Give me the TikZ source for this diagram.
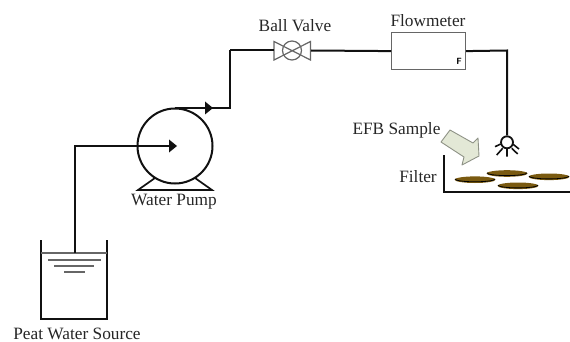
\documentclass[tikz,border=0pt]{standalone}
\usepackage{fontspec}
\setmainfont{Liberation Serif}
\definecolor{pipe}{HTML}{111111}
\definecolor{grayline}{HTML}{666666}
\definecolor{peat}{HTML}{7A5A10}
\definecolor{efbfill}{HTML}{E3E8D6}
\definecolor{efbedge}{HTML}{8E9286}
\tikzset{
  pipeline/.style={draw=pipe,line width=2pt,line join=miter},
  thinline/.style={draw=grayline,line width=1.2pt},
  label/.style={inner sep=0pt,font=\fontsize{17.3}{18}\selectfont,text=black!85},
  peatdisc/.style={fill=peat,draw=none},
  discedge/.style={black,line width=.8pt},
  flowtip/.style={fill=pipe,draw=none},
}
\begin{document}
\begin{tikzpicture}[x=1pt,y=-1pt]
\useasboundingbox (0,0) rectangle (570,342);
% tank
\coordinate (tankTL) at (41,240);
\coordinate (tankBL) at (41,319);
\coordinate (tankBR) at (107,319);
\coordinate (tankTR) at (107,240);
\draw[pipeline] (tankTL) -- (tankBL) -- (tankBR) -- (tankTR);
\coordinate (surfL) at (41,253);
\coordinate (surfR) at (107,253);
\coordinate (surfM) at (75,253);
\draw[thinline] (surfL) -- (surfR);
\draw[thinline] (48,260) -- (101,260);
\draw[thinline] (54,266) -- (94,266);
\draw[thinline] (64,272) -- (85,272);
% pump
\node[circle,draw=pipe,line width=2pt,minimum size=75pt,inner sep=0pt] (pump) at (175,146) {};
\coordinate (footL) at (138,190);
\coordinate (footR) at (212,190);
\draw[pipeline,line width=1.7pt] (155,178) -- (footL) -- (footR) -- (195,178);
\coordinate (inlet) at (75,146);
\coordinate (pumpTop) at (175,108);
\coordinate (riserB) at (230,108);
\coordinate (riserT) at (230,50.5);
\draw[pipeline] (surfM) -- (inlet) -- (pump.center);
\fill[flowtip] (169,139.5) -- (177,146) -- (169,152.5) -- cycle;
\draw[pipeline] (pumpTop) -- (riserB) -- (riserT);
\fill[flowtip] (205,101.5) -- (213,108) -- (205,114.5) -- cycle;
% valve
\node[circle,draw=grayline,line width=1.2pt,minimum size=19pt,inner sep=0pt] (valve) at (292,50.5) {};
\coordinate (valveL) at (274,50.5);
\coordinate (valveR) at (311,50.5);
\draw[thinline,line join=miter] (274,41.5) -- (310.5,60) -- (310.5,41.5) -- (274,60) -- cycle;
\draw[pipeline] (riserT) -- (valveL);
% flowmeter
\node[draw=grayline,line width=1.2pt,minimum width=74pt,minimum height=37pt,inner sep=0pt,anchor=north west] (meter) at (391,32) {};
\node[inner sep=0pt,font=\sffamily\bfseries\fontsize{9}{10}\selectfont] (fmark) at (459,61) {F};
\draw[pipeline] (valveR) -- (meter.west);
\coordinate (drop) at (507,50.5);
\node[circle,draw=pipe,line width=1.8pt,minimum size=12pt,inner sep=0pt] (head) at (507,142.3) {};
\draw[pipeline] (meter.east) -- (drop) -- (head.north);
\draw[pipe,line width=1.6pt] (495,146.7) -- (500.7,144) (496.7,155) -- (502.7,148.3) (507,156.7) -- (507,148.3) (517.7,154) -- (511.7,148.3) (519,149) -- (512.7,144);
% sample arrow
\draw[efbedge,fill=efbfill,line width=.9pt,line join=round] (450,130) -- (441,142) -- (464,157) -- (462,165) -- (479,156) -- (478,138) -- (473,143) -- cycle;
% filter
\coordinate (filTL) at (443.5,155);
\coordinate (filBL) at (443.5,192);
\coordinate (filBR) at (570,192);
\draw[pipeline] (filTL) -- (filBL) -- (filBR);
\fill[peatdisc] (475,179.7) ellipse [x radius=20.5,y radius=3.3];
\fill[peatdisc] (507,173.5) ellipse [x radius=20.5,y radius=3.3];
\fill[peatdisc] (549,176.8) ellipse [x radius=20.5,y radius=3.3];
\fill[peatdisc] (518,185.8) ellipse [x radius=20.5,y radius=3.3];
\draw[discedge] (455,179) arc[start angle=180,end angle=0,x radius=20,y radius=2.8];
\draw[discedge] (487,172.8) arc[start angle=180,end angle=0,x radius=20,y radius=2.8];
\draw[discedge] (529,176.1) arc[start angle=180,end angle=0,x radius=20,y radius=2.8];
\draw[discedge] (498,185.1) arc[start angle=180,end angle=0,x radius=20,y radius=2.8];
% labels
\node[label] (lbSource) at (77,334) {Peat Water Source};
\node[label] (lbPump) at (174,202) {Water Pump};
\node[label] (lbValve) at (295,26) {Ball Valve};
\node[label] (lbMeter) at (428,21) {Flowmeter};
\node[label] (lbEfb) at (396.5,130) {EFB Sample};
\node[label] (lbFilter) at (418,177) {Filter};
\end{tikzpicture}
\end{document}
